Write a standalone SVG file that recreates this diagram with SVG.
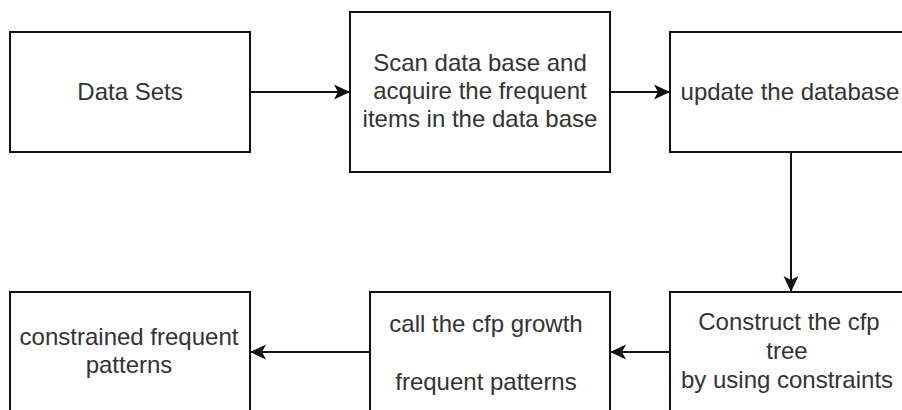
<svg xmlns="http://www.w3.org/2000/svg" width="902" height="410" viewBox="0 0 902 410">
  <style>
    .box { fill: #ffffff; stroke: #111111; stroke-width: 2; }
    .edge { fill: none; stroke: #111111; stroke-width: 2; }
    .label { font-family: "Liberation Sans", Arial, sans-serif; font-size: 24px; fill: #333333; text-anchor: middle; }
  </style>
  <defs>
    <marker id="arrow" markerUnits="userSpaceOnUse" viewBox="0 0 16 16" refX="16" refY="8" markerWidth="16" markerHeight="16" orient="auto">
      <path d="M16,8 L0,0.5 L4,8 L0,15.5 Z" fill="#111111"/>
    </marker>
  </defs>
  <rect width="902" height="410" fill="#ffffff"/>

  <!-- connectors -->
  <g id="connectors">
    <line class="edge" x1="250" y1="92" x2="350" y2="92" marker-end="url(#arrow)"/>
    <line class="edge" x1="610" y1="92" x2="670" y2="92" marker-end="url(#arrow)"/>
    <line class="edge" x1="791" y1="152" x2="791" y2="292" marker-end="url(#arrow)"/>
    <line class="edge" x1="670" y1="352" x2="610" y2="352" marker-end="url(#arrow)"/>
    <line class="edge" x1="370" y1="352" x2="250" y2="352" marker-end="url(#arrow)"/>
  </g>

  <g id="node-data-sets">
    <rect class="box" x="10" y="32" width="240" height="120"/>
    <text class="label" x="130" y="100">Data Sets</text>
  </g>

  <g id="node-scan">
    <rect class="box" x="350" y="12" width="260" height="160"/>
    <text class="label" x="480" y="71">Scan data base and</text>
    <text class="label" x="480" y="99">acquire the frequent</text>
    <text class="label" x="480" y="127">items in the data base</text>
  </g>

  <g id="node-update">
    <rect class="box" x="670" y="32" width="242" height="120"/>
    <text class="label" x="790" y="100">update the database</text>
  </g>

  <g id="node-construct">
    <rect class="box" x="670" y="292" width="242" height="130"/>
    <text class="label" x="789" y="330">Construct the cfp</text>
    <text class="label" x="787" y="359">tree</text>
    <text class="label" x="787" y="388">by using constraints</text>
  </g>

  <g id="node-cfp-growth">
    <rect class="box" x="370" y="292" width="240" height="130"/>
    <text class="label" x="486" y="332">call the cfp growth</text>
    <text class="label" x="486" y="390">frequent patterns</text>
  </g>

  <g id="node-constrained">
    <rect class="box" x="10" y="292" width="240" height="130"/>
    <text class="label" x="129" y="345">constrained frequent</text>
    <text class="label" x="129" y="373">patterns</text>
  </g>
</svg>
